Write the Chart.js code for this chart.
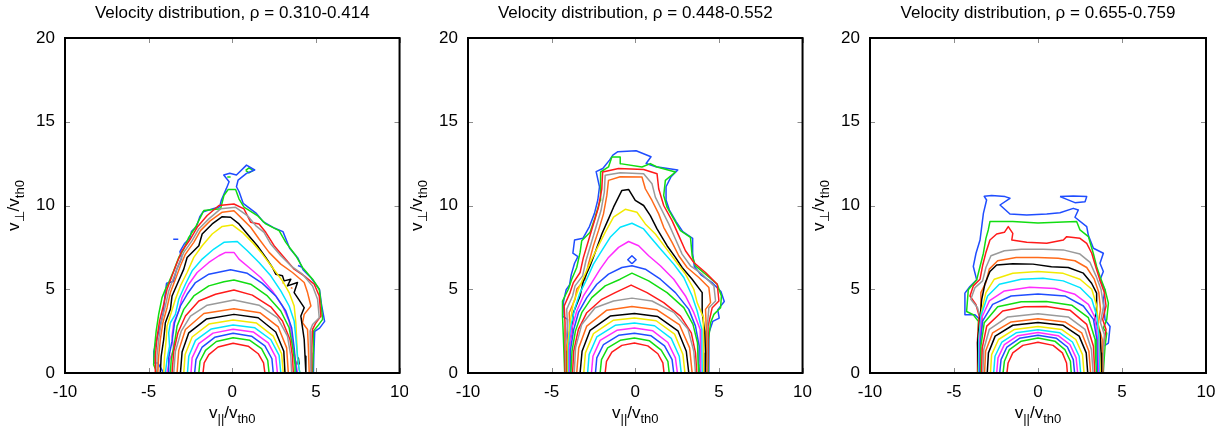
<!DOCTYPE html>
<html>
<head>
<meta charset="utf-8">
<script src="https://cdn.jsdelivr.net/npm/chart.js@4.4.1/dist/chart.umd.min.js"></script>
<style>
  body { margin: 0; background: #fff; }
  canvas { position: absolute; top: 0; background: #fff; }
</style>
</head>
<body>
<canvas id="p1" width="418" height="432" style="left:0px"></canvas>
<canvas id="p2" width="413" height="432" style="left:408px"></canvas>
<canvas id="p3" width="413" height="432" style="left:812px"></canvas>
<script>
// ---- data ----
const panelTitles = ['Velocity distribution, \u03c1 = 0.310-0.414',
                     'Velocity distribution, \u03c1 = 0.448-0.552',
                     'Velocity distribution, \u03c1 = 0.655-0.759'];
const xTicks = [-10, -5, 0, 5, 10];
const yTicks = [0, 5, 10, 15, 20];
// contour colours, innermost level first (cycle repeats)
const levelColors = ['#ff1a1a', '#11dd11', '#1f4dff', '#ff2cff', '#00e5ff', '#f2ea00', '#000000', '#ff6a1a', '#9a9a9a'];

// rho = 0.310-0.414, levels from innermost outward, [v||, vperp]
const rho1Levels = [
  [[-1.75,0],[-1.68,0.6],[-1.4,1.1],[-0.85,1.55],[0.05,1.77],[0.95,1.6],[1.55,1.15],[1.87,0.6],[1.95,0]],
  [[-2.0,0],[-1.93,0.7],[-1.6,1.35],[-0.95,1.88],[0.05,2.11],[1.05,1.95],[1.75,1.45],[2.12,0.75],[2.2,0]],
  [[-2.25,0],[-2.17,0.8],[-1.8,1.55],[-1.05,2.13],[0.05,2.37],[1.15,2.2],[1.95,1.62],[2.37,0.85],[2.45,0]],
  [[-2.47,0],[-2.4,0.9],[-2.0,1.75],[-1.15,2.38],[0.05,2.61],[1.25,2.45],[2.15,1.8],[2.6,0.95],[2.7,0]],
  [[-2.68,0],[-2.6,1.0],[-2.2,1.95],[-1.25,2.63],[0.05,2.87],[1.35,2.7],[2.3,2.0],[2.8,1.05],[2.9,0]],
  [[-2.9,0],[-2.82,1.1],[-2.4,2.15],[-1.4,2.92],[0.05,3.16],[1.45,2.98],[2.45,2.2],[2.95,1.15],[3.05,0]],
  [[-3.1,0],[-3.0,1.25],[-2.6,2.4],[-1.55,3.22],[0.1,3.5],[1.55,3.3],[2.6,2.45],[3.08,1.3],[3.15,0]],
  [[-3.3,0],[-3.2,1.35],[-2.8,2.6],[-1.7,3.55],[0.1,3.84],[1.65,3.6],[2.75,2.75],[3.25,1.5],[3.35,0]],
  [[-3.5,0],[-3.4,1.3],[-3.05,2.5],[-2.5,3.4],[-1.5,4.05],[0.1,4.36],[1.6,4.05],[2.7,3.3],[3.3,2.2],[3.5,1.0],[3.55,0]],
  [[-3.6,0],[-3.5,1.3],[-3.25,2.4],[-2.8,3.4],[-2.0,4.3],[-1.0,4.7],[0.1,4.96],[1.2,4.65],[2.3,3.95],[3.0,3.1],[3.45,2.0],[3.6,1.0],[3.65,0]],
  [[-3.7,0],[-3.65,0.8],[-3.45,1.8],[-3.3,2.8],[-2.9,3.8],[-2.3,4.6],[-1.4,5.2],[-0.5,5.45],[0.1,5.55],[1.1,5.3],[2.1,4.6],[2.9,3.7],[3.4,2.7],[3.6,1.6],[3.75,0.5],[3.75,0]],
  [[-3.8,0],[-3.8,0.9],[-3.6,1.9],[-3.45,3.0],[-3.1,4.0],[-2.7,4.7],[-2.2,5.4],[-1.4,5.9],[-0.1,6.16],[0.9,5.95],[1.8,5.35],[2.6,4.6],[3.2,3.7],[3.55,2.7],[3.7,1.5],[3.8,0.4],[3.85,0]],
  [[-3.9,0],[-3.75,0.8],[-3.5,1.4],[-3.6,2.2],[-3.5,3.0],[-3.2,3.7],[-3.0,4.5],[-2.6,5.3],[-2.1,6.0],[-1.4,6.6],[-0.8,7.0],[-0.4,7.2],[0.1,7.2],[0.4,6.8],[1.0,6.3],[1.7,5.7],[2.4,4.9],[3.0,4.0],[3.4,3.1],[3.55,2.2],[3.7,1.2],[3.85,0.3],[3.9,0]],
  [[-4.0,0],[-3.9,0.8],[-3.75,1.6],[-3.8,2.4],[-3.7,3.0],[-3.4,3.5],[-3.2,4.4],[-2.8,5.3],[-2.4,6.1],[-1.8,6.8],[-1.1,7.4],[-0.5,7.8],[0.3,7.85],[0.9,7.3],[1.6,6.6],[2.3,5.8],[2.9,4.9],[3.4,4.0],[3.7,3.1],[3.8,2.1],[3.9,1.0],[4.0,0.2],[4.05,0]],
  [[-4.1,0],[-4.05,1.0],[-3.95,2.0],[-3.9,2.8],[-3.65,3.6],[-3.4,4.4],[-3.1,5.2],[-2.7,6.0],[-2.3,6.9],[-1.8,7.6],[-1.2,8.3],[-0.6,8.75],[0.0,8.84],[0.6,8.4],[1.2,7.8],[1.8,7.1],[2.4,6.3],[3.0,5.5],[3.4,4.8],[3.7,4.0],[3.8,3.0],[3.85,2.0],[3.9,0.9],[4.0,0.2],[4.05,0]],
  [[-4.3,0],[-4.25,1.0],[-4.1,2.0],[-4.0,3.0],[-3.7,3.8],[-3.6,4.6],[-3.25,5.4],[-2.9,6.2],[-2.7,6.9],[-2.0,7.6],[-1.8,8.3],[-1.2,8.9],[-0.6,9.33],[-0.1,9.3],[0.4,8.9],[0.9,8.3],[1.5,7.6],[2.0,6.9],[2.4,6.3],[2.6,5.9],[3.0,5.8],[3.1,5.5],[3.5,5.6],[3.3,5.2],[3.9,5.4],[3.7,4.8],[4.3,3.9],[4.1,3.4],[4.3,2.0],[4.35,1.0],[4.4,0]],
  [[-4.45,0],[-4.4,1.0],[-4.3,2.0],[-4.15,3.0],[-3.9,3.9],[-3.7,4.8],[-3.4,5.6],[-3.1,6.4],[-2.8,7.1],[-2.3,7.8],[-1.9,8.5],[-1.3,9.1],[-0.6,9.6],[0.1,9.69],[0.6,9.2],[1.1,8.7],[1.6,8.0],[2.2,7.2],[2.9,6.5],[3.6,6.0],[4.3,5.4],[4.5,4.8],[4.7,4.0],[4.3,3.5],[4.2,3.0],[4.5,2.6],[4.55,1.5],[4.6,0]],
  [[-4.55,0],[-4.5,1.0],[-4.4,2.0],[-4.25,3.0],[-4.0,4.0],[-3.8,4.9],[-3.5,5.7],[-3.2,6.5],[-2.9,7.2],[-2.4,7.9],[-2.0,8.6],[-1.4,9.2],[-0.7,9.8],[0.2,9.89],[0.9,9.4],[1.4,8.8],[1.9,8.4],[2.3,7.7],[2.9,7.0],[3.5,6.4],[4.2,5.9],[4.8,5.2],[5.1,4.4],[5.2,3.3],[4.8,2.9],[4.65,2.5],[4.7,1.5],[4.7,0]],
  [[-4.6,0],[-4.6,1.0],[-4.5,2.1],[-4.35,3.1],[-4.1,4.1],[-3.9,5.0],[-3.6,5.8],[-3.3,6.6],[-3.0,7.3],[-2.5,8.0],[-2.1,8.7],[-1.5,9.4],[-0.8,10.0],[0.1,10.09],[0.7,9.8],[1.1,9.0],[1.6,8.9],[2.0,8.4],[2.5,7.6],[3.1,6.9],[3.7,6.2],[4.3,5.8],[4.9,5.3],[5.2,4.6],[5.3,3.4],[5.0,3.0],[4.8,2.6],[4.75,1.5],[4.75,0]],
  [[-4.5,0],[-4.7,0.5],[-4.65,1.5],[-4.55,2.5],[-4.4,3.5],[-4.2,4.5],[-4.0,5.0],[-3.8,5.4],[-3.5,6.1],[-3.2,6.9],[-2.9,7.4],[-2.6,8.1],[-2.2,8.7],[-1.9,9.3],[-1.7,9.7],[-0.7,9.8],[-0.5,10.6],[-0.25,10.95],[0.2,10.95],[0.4,10.4],[0.7,9.9],[1.5,9.4],[2.0,8.9],[2.8,8.5],[3.2,7.8],[3.8,7.0],[4.2,6.3],[4.8,5.6],[5.2,5.0],[5.3,4.2],[5.4,3.2],[5.1,2.8],[4.85,2.5],[4.85,1.3],[4.8,0]],
  [[-4.1,0],[-4.45,0.6],[-4.69,0.6],[-4.69,1.29],[-4.37,2.58],[-4.13,3.57],[-4.03,4.57],[-3.93,5.36],[-3.53,5.46],[-3.33,6.16],[-3.03,6.85],[-3.13,7.25],[-2.84,7.75],[-2.54,8.04],[-2.44,8.44],[-2.14,8.74],[-1.94,9.33],[-1.74,9.63],[-0.75,9.93],[-0.65,10.33],[-0.35,11.02],[-0.19,11.42],[-0.51,11.82],[-0.15,11.92],[0.25,11.82],[0.85,12.41],[1.34,12.12],[0.85,11.92],[0.35,11.52],[0.25,11.12],[0.41,10.82],[0.65,10.13],[1.44,9.53],[1.84,9.04],[2.54,8.64],[3.03,8.44],[3.43,7.45],[3.93,6.85],[4.23,6.16],[4.73,5.66],[5.22,4.97],[5.32,4.17],[5.52,3.08],[5.22,2.68],[4.93,2.48],[4.88,1.2],[4.85,0]]
];
// small closed pieces: [level index, points]
const rho1Islands = [
  [20, [[-3.53,7.98],[-3.23,7.98]]],
  [20, [[3.93,6.42],[4.15,6.32]]],
  [19, [[0.8,12.1],[1.0,12.25],[1.25,12.1],[1.0,11.95],[0.8,12.1]]],
  [19, [[-0.3,11.7],[-0.1,11.7]]],
  [16, [[3.0,5.4],[3.1,5.35]]],
  [16, [[3.5,5.1],[3.6,5.05]]],
  [15, [[3.85,0.5],[3.95,0.9],[4.0,0.5]]]
];

// rho = 0.448-0.552
const rho2Levels = [
  [[-1.8,0],[-1.72,0.7],[-1.4,1.25],[-0.8,1.65],[-0.05,1.79],[0.75,1.62],[1.35,1.15],[1.65,0.6],[1.72,0]],
  [[-2.1,0],[-2.02,0.8],[-1.65,1.5],[-0.9,1.95],[-0.05,2.09],[0.85,1.92],[1.55,1.37],[1.95,0.7],[2.03,0]],
  [[-2.38,0],[-2.3,0.9],[-1.9,1.7],[-1.0,2.25],[-0.05,2.38],[0.95,2.22],[1.75,1.62],[2.2,0.8],[2.3,0]],
  [[-2.62,0],[-2.53,1.0],[-2.1,1.95],[-1.1,2.55],[-0.05,2.68],[1.05,2.52],[1.95,1.82],[2.4,0.9],[2.52,0]],
  [[-2.85,0],[-2.76,1.1],[-2.3,2.15],[-1.2,2.85],[-0.05,2.98],[1.15,2.82],[2.15,2.07],[2.63,1.0],[2.75,0]],
  [[-3.08,0],[-2.98,1.2],[-2.5,2.35],[-1.3,3.15],[-0.05,3.28],[1.25,3.12],[2.35,2.32],[2.85,1.1],[2.97,0]],
  [[-3.3,0],[-3.18,1.3],[-2.7,2.55],[-1.5,3.4],[-0.05,3.55],[1.35,3.37],[2.55,2.52],[3.05,1.3],[3.2,0]],
  [[-3.5,0],[-3.38,1.5],[-2.9,2.8],[-1.7,3.75],[-0.2,3.97],[1.3,3.77],[2.65,2.87],[3.25,1.5],[3.4,0]],
  [[-3.65,0],[-3.57,1.5],[-3.2,2.9],[-2.4,3.9],[-1.3,4.3],[-0.2,4.47],[1.0,4.3],[2.3,3.62],[3.15,2.62],[3.5,1.3],[3.6,0]],
  [[-3.75,0],[-3.68,1.3],[-3.4,2.6],[-2.9,3.6],[-2.0,4.4],[-1.2,4.8],[-0.25,5.25],[0.7,4.8],[1.7,4.2],[2.7,3.4],[3.35,2.4],[3.6,1.2],[3.68,0]],
  [[-3.85,0],[-3.78,1.3],[-3.58,2.5],[-3.2,3.6],[-2.6,4.5],[-1.8,5.2],[-0.9,5.6],[-0.2,5.96],[0.8,5.5],[1.9,4.8],[2.9,3.9],[3.45,2.9],[3.72,1.8],[3.76,0.5],[3.8,0]],
  [[-3.9,0],[-3.87,1.4],[-3.68,2.6],[-3.4,3.6],[-2.9,4.5],[-2.3,5.3],[-1.6,5.9],[-0.8,6.3],[-0.2,6.4],[0.6,6.2],[1.5,5.6],[2.4,4.8],[3.2,3.8],[3.6,2.8],[3.82,1.6],[3.8,0.4],[3.86,0]],
  [[-3.95,0],[-3.93,1.5],[-3.78,2.7],[-3.5,3.7],[-3.1,4.6],[-2.6,5.4],[-2.1,6.2],[-1.6,6.9],[-1.0,7.5],[-0.4,7.85],[0.2,7.6],[0.8,7.0],[1.5,6.4],[2.3,5.6],[3.0,4.6],[3.5,3.6],[3.88,2.6],[3.88,1.4],[3.92,0]],
  [[-4.0,0],[-3.98,1.6],[-3.85,2.8],[-3.6,3.9],[-3.3,4.8],[-2.9,5.6],[-2.5,6.5],[-2.0,7.3],[-1.5,8.1],[-0.9,8.7],[-0.2,8.94],[0.5,8.6],[1.0,8.0],[1.6,7.3],[2.3,6.5],[2.9,5.7],[3.4,4.6],[3.7,3.7],[3.98,2.6],[3.98,1.3],[4.0,0]],
  [[-4.03,0],[-4.03,1.7],[-3.9,3.0],[-3.7,4.2],[-3.4,5.0],[-3.0,5.9],[-2.6,6.8],[-2.2,7.6],[-1.8,8.4],[-1.3,9.3],[-0.6,9.77],[0.1,9.6],[0.6,8.9],[1.2,8.3],[1.8,7.5],[2.4,6.7],[3.0,5.9],[3.5,5.0],[3.7,4.2],[4.08,3.3],[4.08,2.0],[4.06,0.5],[4.07,0]],
  [[-4.06,0],[-4.05,1.3],[-3.8,2.4],[-3.7,3.6],[-3.3,4.6],[-3.1,5.5],[-2.7,6.4],[-2.4,7.2],[-2.0,8.3],[-1.6,9.2],[-1.3,9.9],[-0.8,10.9],[-0.4,10.96],[0.0,10.3],[0.5,10.0],[0.9,9.4],[1.3,8.6],[1.9,7.6],[2.4,6.9],[2.8,6.3],[3.4,5.6],[4.0,4.8],[4.0,3.6],[4.15,2.5],[4.2,1.2],[4.18,0]],
  [[-4.1,0],[-4.1,1.6],[-3.9,2.6],[-3.95,3.6],[-3.6,4.4],[-3.5,5.0],[-3.0,5.6],[-2.8,6.5],[-2.5,7.6],[-2.2,8.5],[-1.9,9.5],[-1.7,10.6],[-1.6,11.5],[-0.9,11.72],[0.4,11.7],[0.6,11.0],[1.0,10.3],[1.4,9.5],[1.7,8.7],[2.2,7.8],[2.6,7.0],[3.1,6.3],[3.8,5.7],[4.4,5.1],[4.5,4.2],[4.2,3.8],[4.25,2.5],[4.25,1.0],[4.23,0]],
  [[-4.14,0],[-4.15,1.8],[-4.05,2.8],[-4.1,3.8],[-3.75,4.6],[-3.6,5.2],[-3.15,5.8],[-2.95,6.7],[-2.65,7.7],[-2.35,8.7],[-2.05,9.7],[-1.85,10.8],[-1.8,11.8],[-0.9,11.96],[0.5,11.9],[1.0,11.3],[1.2,10.5],[1.6,9.7],[2.0,8.9],[2.4,8.0],[2.8,7.1],[3.3,6.4],[4.0,5.9],[4.7,5.2],[4.8,4.3],[4.4,3.9],[4.3,2.7],[4.3,1.0],[4.28,0]],
  [[-4.18,0],[-4.2,2.0],[-4.2,3.0],[-4.25,4.0],[-3.9,4.8],[-3.7,5.4],[-3.3,6.0],[-3.1,6.9],[-2.8,7.9],[-2.5,8.9],[-2.2,9.9],[-2.0,11.0],[-1.95,12.0],[-1.0,12.21],[0.5,12.15],[1.3,11.9],[1.4,11.0],[1.7,10.0],[2.2,9.1],[2.6,8.2],[3.0,7.3],[3.5,6.6],[4.2,6.0],[4.9,5.3],[5.0,4.3],[4.6,3.9],[4.35,2.8],[4.35,1.0],[4.31,0]],
  [[-4.22,0],[-4.3,2.2],[-4.35,3.4],[-4.35,4.3],[-4.0,5.0],[-3.8,5.6],[-3.5,6.3],[-3.3,7.2],[-3.2,7.9],[-2.7,8.4],[-2.4,9.3],[-2.1,10.3],[-2.05,11.3],[-2.1,12.0],[-1.6,12.3],[-1.4,12.9],[-0.9,12.9],[-0.9,12.5],[0.4,12.3],[0.9,12.5],[1.3,12.3],[2.4,12.0],[1.8,11.5],[1.7,10.6],[1.9,9.9],[2.3,9.2],[2.7,8.5],[3.3,8.1],[3.4,7.0],[3.6,6.4],[4.2,5.9],[4.9,5.3],[5.15,4.6],[5.1,3.9],[4.7,3.5],[4.5,3.0],[4.38,2.0],[4.36,0]],
  [[-4.03,0],[-4.05,3.2],[-4.33,3.38],[-4.29,4.27],[-4.13,4.97],[-3.93,5.26],[-3.83,5.86],[-3.63,6.55],[-3.43,6.95],[-3.73,7.15],[-3.63,7.94],[-3.13,8.04],[-2.74,8.74],[-2.44,9.53],[-2.24,10.33],[-2.14,11.12],[-2.34,12.02],[-1.94,12.21],[-1.54,12.71],[-1.34,13.01],[-1.04,13.21],[0.05,13.27],[0.94,12.91],[0.65,12.51],[1.24,12.31],[2.54,12.12],[2.14,11.72],[1.84,11.12],[1.84,10.33],[2.04,9.73],[2.44,9.04],[2.84,8.44],[3.43,8.04],[3.43,7.15],[3.53,6.36],[3.93,5.86],[4.63,5.36],[5.12,4.87],[5.32,4.27],[4.93,3.77],[5.02,3.28],[4.63,3.08],[4.4,2.38],[4.4,0]]
];
const rho2Islands = [
  [11, [[-0.2,6.52],[-0.45,6.76],[-0.2,7.0],[0.05,6.76],[-0.2,6.52]]]
];

// rho = 0.655-0.759
const rho3Levels = [
  [[-1.85,0],[-1.78,0.6],[-1.5,1.2],[-0.9,1.65],[0,1.83],[0.9,1.65],[1.45,1.2],[1.7,0.6],[1.75,0]],
  [[-2.08,0],[-2.0,0.7],[-1.7,1.4],[-1.0,1.9],[0,2.09],[1.0,1.9],[1.6,1.4],[1.93,0.7],[1.98,0]],
  [[-2.28,0],[-2.2,0.8],[-1.85,1.55],[-1.1,2.07],[0,2.26],[1.1,2.07],[1.75,1.55],[2.1,0.8],[2.18,0]],
  [[-2.46,0],[-2.38,0.9],[-2.0,1.7],[-1.2,2.23],[0,2.42],[1.2,2.23],[1.9,1.7],[2.27,0.9],[2.36,0]],
  [[-2.64,0],[-2.56,1.0],[-2.15,1.85],[-1.3,2.4],[0,2.58],[1.3,2.4],[2.05,1.85],[2.45,1.0],[2.54,0]],
  [[-2.83,0],[-2.76,1.1],[-2.35,2.0],[-1.4,2.6],[0,2.78],[1.4,2.6],[2.25,2.0],[2.65,1.1],[2.74,0]],
  [[-3.02,0],[-2.95,1.2],[-2.55,2.2],[-1.5,2.85],[0,3.02],[1.5,2.85],[2.45,2.2],[2.87,1.2],[2.96,0]],
  [[-3.18,0],[-3.12,1.3],[-2.7,2.4],[-1.6,3.05],[0,3.24],[1.6,3.05],[2.6,2.4],[3.03,1.3],[3.13,0]],
  [[-3.28,0],[-3.23,1.4],[-2.9,2.6],[-1.8,3.35],[0,3.54],[1.8,3.35],[2.8,2.6],[3.18,1.4],[3.28,0]],
  [[-3.36,0],[-3.32,1.5],[-3.05,2.8],[-2.1,3.7],[-0.8,3.95],[0.5,3.97],[1.9,3.75],[2.9,2.9],[3.3,1.6],[3.38,0]],
  [[-3.42,0],[-3.4,1.6],[-3.2,3.0],[-2.4,3.95],[-1.0,4.25],[0.5,4.27],[2.0,4.05],[3.0,3.3],[3.4,2.0],[3.45,0.6],[3.48,0]],
  [[-3.46,0],[-3.43,1.8],[-3.3,3.1],[-2.7,4.1],[-1.6,4.6],[0,4.71],[1.6,4.6],[2.7,4.0],[3.3,3.2],[3.5,2.0],[3.54,0]],
  [[-3.5,0],[-3.47,1.9],[-3.35,3.3],[-2.9,4.3],[-2.0,4.9],[-0.5,5.12],[1.0,5.05],[2.2,4.7],[3.0,4.1],[3.4,3.3],[3.55,2.0],[3.6,0]],
  [[-3.52,0],[-3.52,2.0],[-3.4,3.4],[-3.0,4.6],[-2.3,5.3],[-1.0,5.6],[0.3,5.66],[1.5,5.5],[2.5,5.1],[3.2,4.4],[3.5,3.4],[3.62,2.1],[3.65,0]],
  [[-3.54,0],[-3.5,2.2],[-3.38,3.6],[-3.1,4.8],[-2.6,5.6],[-1.5,5.95],[0,6.06],[1.5,5.95],[2.5,5.6],[3.2,5.0],[3.5,4.0],[3.62,2.4],[3.7,0]],
  [[-3.55,0],[-3.6,1.8],[-3.45,3.2],[-3.35,4.4],[-3.15,5.36],[-2.86,6.06],[-2.46,6.45],[-1.5,6.52],[-0.3,6.5],[0.8,6.35],[1.8,6.3],[2.7,5.96],[3.19,5.36],[3.49,4.77],[3.49,3.97],[3.39,3.18],[3.69,2.38],[3.75,1.2],[3.78,0]],
  [[-3.56,0],[-3.5,1.8],[-3.3,3.0],[-3.4,4.0],[-3.4,4.8],[-3.1,5.4],[-2.9,6.2],[-2.4,6.7],[-1.3,6.9],[0,6.89],[1.2,6.85],[2.2,6.7],[2.9,6.3],[3.35,5.6],[3.62,4.8],[3.72,3.8],[3.58,2.9],[3.82,2.0],[3.8,0]],
  [[-3.57,0],[-3.55,2.0],[-3.4,3.2],[-3.6,3.9],[-4.0,4.4],[-3.75,5.1],[-3.3,5.5],[-3.1,6.3],[-2.8,7.0],[-2.0,7.3],[-1.0,7.39],[0.3,7.39],[1.5,7.35],[2.5,7.1],[3.1,6.6],[3.45,5.8],[3.75,5.0],[3.9,4.0],[3.72,3.0],[3.95,2.3],[3.84,0]],
  [[-3.58,0],[-3.6,2.0],[-3.5,3.4],[-3.7,4.1],[-4.05,4.6],[-3.85,5.2],[-3.45,5.6],[-3.3,6.4],[-3.1,7.2],[-2.86,7.94],[-2.46,8.3],[-2.0,8.4],[-1.77,8.74],[-1.5,8.34],[-1.56,7.94],[-0.67,7.8],[0.52,7.74],[1.51,7.94],[1.71,8.14],[2.5,8.04],[2.9,7.74],[3.2,7.15],[3.45,6.3],[3.7,5.5],[3.95,4.8],[4.05,4.0],[3.85,3.2],[4.05,2.6],[3.87,1.5],[3.86,0]],
  [[-3.59,0],[-3.55,3.08],[-3.85,3.48],[-4.25,3.67],[-4.15,4.97],[-3.65,5.56],[-3.45,6.36],[-3.25,7.15],[-3.1,8.04],[-2.96,8.54],[-2.86,9.04],[-1.5,9.05],[0,8.96],[1.5,9.02],[2.3,9.04],[2.5,8.54],[3.0,8.14],[3.29,7.15],[3.49,6.36],[3.69,5.76],[3.99,4.97],[4.19,4.17],[4.09,3.18],[3.89,2.68],[4.09,2.38],[3.99,1.59],[3.88,0]],
  [[-3.55,0],[-3.55,2.2],[-3.45,3.18],[-3.75,3.48],[-4.35,3.48],[-4.35,4.77],[-4.05,5.16],[-3.65,5.56],[-3.85,6.36],[-3.69,7.15],[-3.45,7.94],[-3.35,8.74],[-3.25,9.53],[-3.06,10.33],[-3.2,10.55],[-2.76,10.59],[-1.96,10.53],[-1.67,10.43],[-2.26,10.03],[-1.67,9.49],[-0.67,9.43],[0.52,9.49],[1.31,9.57],[2.1,9.83],[2.4,9.73],[2.2,9.3],[2.9,8.74],[3.0,8.2],[3.3,7.45],[3.89,7.15],[3.69,6.55],[3.89,6.06],[3.69,5.56],[3.99,4.97],[3.89,4.37],[3.99,3.18],[4.29,2.78],[4.19,1.79],[3.89,1.59],[3.89,0]]
];
const rho3Islands = [
  [20, [[1.31,10.53],[2.1,10.57],[2.9,10.53],[2.8,10.23],[2.2,10.17],[1.31,10.53]]]
];

// ---- drawing ----
const FONT = "'Liberation Sans', Arial, Helvetica, sans-serif";

// draw text made of [string, isSubscript] parts, centred on (cx, baseline)
function drawParts(ctx, parts, cx, base) {
  const big = '17px ' + FONT, small = '13px ' + FONT;
  let w = 0;
  parts.forEach(p => { ctx.font = p[1] ? small : big; w += ctx.measureText(p[0]).width; });
  let x = cx - w / 2;
  ctx.textAlign = 'left';
  ctx.textBaseline = 'alphabetic';
  parts.forEach(p => {
    ctx.font = p[1] ? small : big;
    ctx.fillText(p[0], x, base + (p[1] ? 5 : 0));
    x += ctx.measureText(p[0]).width;
  });
}

const frame = {
  id: 'frame',
  afterDraw(chart) {
    const { ctx, chartArea: a, scales: { x, y } } = chart;
    ctx.save();
    ctx.strokeStyle = '#8c8c8c';
    ctx.lineWidth = 1;
    ctx.beginPath();
    xTicks.forEach(v => {
      const px = Math.round(x.getPixelForValue(v)) + 0.5;
      ctx.moveTo(px, a.bottom); ctx.lineTo(px, a.bottom - 5);
      ctx.moveTo(px, a.top); ctx.lineTo(px, a.top + 5);
    });
    yTicks.forEach(v => {
      const py = Math.round(y.getPixelForValue(v)) + 0.5;
      ctx.moveTo(a.left, py); ctx.lineTo(a.left + 5, py);
      ctx.moveTo(a.right, py); ctx.lineTo(a.right - 5, py);
    });
    ctx.stroke();
    ctx.strokeStyle = '#000';
    ctx.lineWidth = 2;
    ctx.strokeRect(a.left, a.top, a.right - a.left, a.bottom - a.top);

    ctx.fillStyle = '#000';
    drawParts(ctx, [['v', 0], ['||', 1], ['/v', 0], ['th0', 1]], (a.left + a.right) / 2, 418);
    ctx.translate(a.left - 46, (a.top + a.bottom) / 2);
    ctx.rotate(-Math.PI / 2);
    drawParts(ctx, [['v', 0], ['\u22a5', 1], ['/v', 0], ['th0', 1]], 0, 0);
    ctx.restore();
  }
};

function makePanel(id, title, levels, islands, axisWidth, padRight) {
  const lineSet = (pts, lvl) => ({
    data: pts.map(p => ({ x: p[0], y: p[1] })),
    showLine: true,
    borderColor: levelColors[lvl % levelColors.length],
    borderWidth: 1.5,
    borderJoinStyle: 'round',
    pointRadius: 0,
    fill: false,
    tension: 0
  });
  const datasets = levels.map((pts, i) => lineSet(pts, i))
    .concat(islands.map(it => lineSet(it[1], it[0])));
  const tickFont = { family: FONT, size: 17 };

  new Chart(document.getElementById(id), {
    type: 'scatter',
    data: { datasets },
    options: {
      responsive: false,
      animation: false,
      events: [],
      layout: { padding: { left: 0, right: padRight, top: 0, bottom: 0 } },
      plugins: {
        legend: { display: false },
        tooltip: { enabled: false },
        title: {
          display: true, text: title, fullSize: false, color: '#000',
          font: { family: FONT, size: 17, weight: 'normal' },
          padding: { top: 3, bottom: 14.6 }
        }
      },
      scales: {
        x: {
          type: 'linear', min: -10, max: 10,
          afterBuildTicks: s => { s.ticks = xTicks.map(v => ({ value: v })); },
          afterFit: s => { s.height = 59; },
          grid: { display: false, drawTicks: false, tickLength: 0 }, border: { display: false },
          ticks: { color: '#000', font: tickFont, padding: 9, maxRotation: 0, autoSkip: false }
        },
        y: {
          type: 'linear', min: 0, max: 20,
          afterBuildTicks: s => { s.ticks = yTicks.map(v => ({ value: v })); },
          afterFit: s => { s.width = axisWidth; },
          grid: { display: false, drawTicks: false, tickLength: 0 }, border: { display: false },
          ticks: { color: '#000', font: tickFont, padding: 10, autoSkip: false }
        }
      }
    },
    plugins: [frame]
  });
}

makePanel('p1', panelTitles[0], rho1Levels, rho1Islands, 65, 18);
makePanel('p2', panelTitles[1], rho2Levels, rho2Islands, 60, 18);
makePanel('p3', panelTitles[2], rho3Levels, rho3Islands, 58, 19);
</script>
</body>
</html>
